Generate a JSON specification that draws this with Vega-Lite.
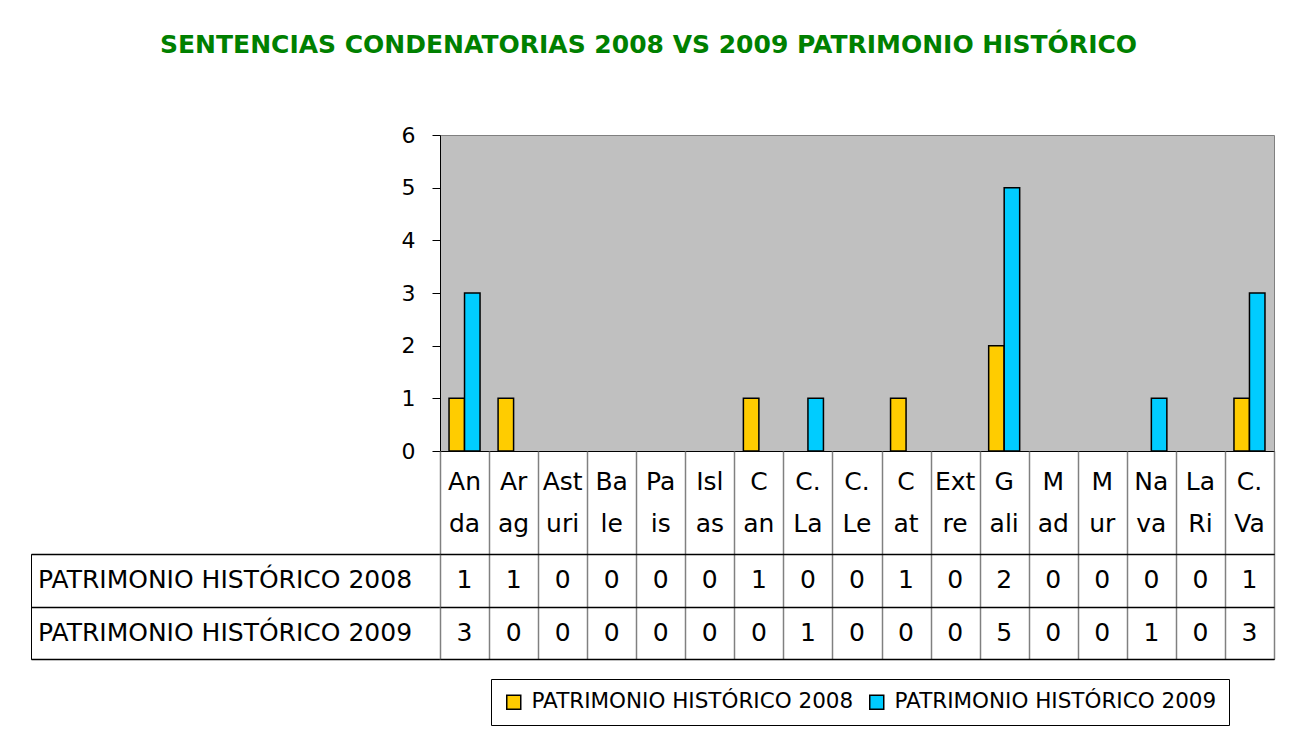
{
  "$schema": "https://vega.github.io/schema/vega-lite/v6.json",
  "padding": {"top": 32, "left": 30, "right": 21, "bottom": 5},
  "background": "white",
  "title": {
    "text": "SENTENCIAS CONDENATORIAS 2008 VS 2009 PATRIMONIO HISTÓRICO",
    "anchor": "start",
    "frame": "group",
    "dx": 129,
    "font": "DejaVu Sans",
    "fontSize": 25,
    "fontWeight": "bold",
    "color": "#008000",
    "offset": 66
  },
  "config": {"view": {"stroke": null}, "font": "DejaVu Sans"},
  "datasets": {
    "main": [
      {"region": "An da", "series": "PATRIMONIO HISTÓRICO 2008", "value": 1},
      {"region": "Ar ag", "series": "PATRIMONIO HISTÓRICO 2008", "value": 1},
      {"region": "Ast uri", "series": "PATRIMONIO HISTÓRICO 2008", "value": 0},
      {"region": "Ba le", "series": "PATRIMONIO HISTÓRICO 2008", "value": 0},
      {"region": "Pa is", "series": "PATRIMONIO HISTÓRICO 2008", "value": 0},
      {"region": "Isl as", "series": "PATRIMONIO HISTÓRICO 2008", "value": 0},
      {"region": "C an", "series": "PATRIMONIO HISTÓRICO 2008", "value": 1},
      {"region": "C. La", "series": "PATRIMONIO HISTÓRICO 2008", "value": 0},
      {"region": "C. Le", "series": "PATRIMONIO HISTÓRICO 2008", "value": 0},
      {"region": "C at", "series": "PATRIMONIO HISTÓRICO 2008", "value": 1},
      {"region": "Ext re", "series": "PATRIMONIO HISTÓRICO 2008", "value": 0},
      {"region": "G ali", "series": "PATRIMONIO HISTÓRICO 2008", "value": 2},
      {"region": "M ad", "series": "PATRIMONIO HISTÓRICO 2008", "value": 0},
      {"region": "M ur", "series": "PATRIMONIO HISTÓRICO 2008", "value": 0},
      {"region": "Na va", "series": "PATRIMONIO HISTÓRICO 2008", "value": 0},
      {"region": "La Ri", "series": "PATRIMONIO HISTÓRICO 2008", "value": 0},
      {"region": "C. Va", "series": "PATRIMONIO HISTÓRICO 2008", "value": 1},
      {"region": "An da", "series": "PATRIMONIO HISTÓRICO 2009", "value": 3},
      {"region": "Ar ag", "series": "PATRIMONIO HISTÓRICO 2009", "value": 0},
      {"region": "Ast uri", "series": "PATRIMONIO HISTÓRICO 2009", "value": 0},
      {"region": "Ba le", "series": "PATRIMONIO HISTÓRICO 2009", "value": 0},
      {"region": "Pa is", "series": "PATRIMONIO HISTÓRICO 2009", "value": 0},
      {"region": "Isl as", "series": "PATRIMONIO HISTÓRICO 2009", "value": 0},
      {"region": "C an", "series": "PATRIMONIO HISTÓRICO 2009", "value": 0},
      {"region": "C. La", "series": "PATRIMONIO HISTÓRICO 2009", "value": 1},
      {"region": "C. Le", "series": "PATRIMONIO HISTÓRICO 2009", "value": 0},
      {"region": "C at", "series": "PATRIMONIO HISTÓRICO 2009", "value": 0},
      {"region": "Ext re", "series": "PATRIMONIO HISTÓRICO 2009", "value": 0},
      {"region": "G ali", "series": "PATRIMONIO HISTÓRICO 2009", "value": 5},
      {"region": "M ad", "series": "PATRIMONIO HISTÓRICO 2009", "value": 0},
      {"region": "M ur", "series": "PATRIMONIO HISTÓRICO 2009", "value": 0},
      {"region": "Na va", "series": "PATRIMONIO HISTÓRICO 2009", "value": 1},
      {"region": "La Ri", "series": "PATRIMONIO HISTÓRICO 2009", "value": 0},
      {"region": "C. Va", "series": "PATRIMONIO HISTÓRICO 2009", "value": 3}
    ]
  },
  "columns": 2,
  "spacing": 0,
  "bounds": "flush",
  "concat": [
    {
      "width": 409, "height": 316,
      "data": {"values": [{}]},
      "mark": "text",
      "encoding": {}
    },
    {
      "width": 834, "height": 316,
      "data": {"name": "main"},
      "view": {"fill": "#C0C0C0", "stroke": "#808080"},
      "mark": {"type": "bar", "stroke": "black", "strokeWidth": 1.5},
      "encoding": {
        "x": {"field": "region", "type": "nominal", "sort": null, "scale": {"paddingInner": 0.368, "paddingOuter": 0.184}, "axis": null},
        "xOffset": {"field": "series", "type": "nominal", "sort": null, "scale": {"paddingInner": 0, "paddingOuter": 0}},
        "y": {"field": "value", "type": "quantitative", "scale": {"domain": [0, 6], "nice": false},
          "axis": {"title": null, "values": [0, 1, 2, 3, 4, 5, 6], "grid": false, "domainColor": "black", "tickColor": "black", "tickSize": 8, "labelFontSize": 22, "labelPadding": 17, "labelColor": "black", "format": "d"}},
        "strokeOpacity": {"condition": {"test": "datum.value == 0", "value": 0}, "value": 1},
        "color": {"field": "series", "type": "nominal", "sort": null, "scale": {"range": ["#FFCC00", "#00CCFF"]},
          "legend": {"title": null, "orient": "none", "legendX": 460, "legendY": 544, "direction": "horizontal", "symbolType": "square", "symbolSize": 196, "symbolStrokeColor": "black", "symbolStrokeWidth": 1.5, "labelFont": "DejaVu Sans", "labelFontSize": 21.5, "labelColor": "black", "labelOffset": 7, "columnPadding": 12, "padding": 12, "strokeColor": "black", "fillColor": "white", "labelLimit": 500}}
      }
    },
    {
      "width": 409, "height": 103,
      "data": {"values": [{}]},
      "mark": "text",
      "encoding": {}
    },
    {
      "width": 834, "height": 103,
      "data": {"name": "main"},
      "transform": [{"filter": {"field": "series", "equal": "PATRIMONIO HISTÓRICO 2008"}}],
      "view": {"stroke": "black"},
      "mark": {"type": "text", "lineBreak": " ", "lineHeight": 42, "fontSize": 25, "baseline": "middle", "dy": -21, "color": "black"},
      "encoding": {
        "x": {"field": "region", "type": "nominal", "sort": null, "scale": {"paddingInner": 0, "paddingOuter": 0},
          "axis": {"title": null, "labels": false, "ticks": false, "domain": false, "grid": true, "gridColor": "#808080", "gridWidth": 1.5, "tickBand": "extent"}},
        "text": {"field": "region"}
      }
    },
    {
      "width": 409, "height": 105,
      "data": {"name": "main"},
      "transform": [{"filter": {"field": "region", "equal": "An da"}}],
      "view": {"stroke": "black"},
      "mark": {"type": "text", "fontSize": 25, "align": "left", "dx": 7, "baseline": "middle", "color": "black"},
      "encoding": {
        "x": {"datum": 0, "type": "quantitative", "scale": {"domain": [0, 1]}, "axis": null},
        "y": {"field": "series", "type": "nominal", "sort": null, "scale": {"paddingInner": 0, "paddingOuter": 0},
          "axis": {"title": null, "labels": false, "ticks": false, "domain": false, "grid": true, "gridColor": "black", "gridWidth": 1.5, "tickBand": "extent"}},
        "text": {"field": "series"}
      }
    },
    {
      "width": 834, "height": 105,
      "data": {"name": "main"},
      "view": {"stroke": "black"},
      "mark": {"type": "text", "fontSize": 25, "baseline": "middle", "color": "black"},
      "encoding": {
        "x": {"field": "region", "type": "nominal", "sort": null, "scale": {"paddingInner": 0, "paddingOuter": 0},
          "axis": {"title": null, "labels": false, "ticks": false, "domain": false, "grid": true, "gridColor": "#808080", "gridWidth": 1.5, "tickBand": "extent"}},
        "y": {"field": "series", "type": "nominal", "sort": null, "scale": {"paddingInner": 0, "paddingOuter": 0},
          "axis": {"title": null, "labels": false, "ticks": false, "domain": false, "grid": true, "gridColor": "black", "gridWidth": 1.5, "tickBand": "extent"}},
        "text": {"field": "value", "type": "quantitative"}
      }
    }
  ]
}
